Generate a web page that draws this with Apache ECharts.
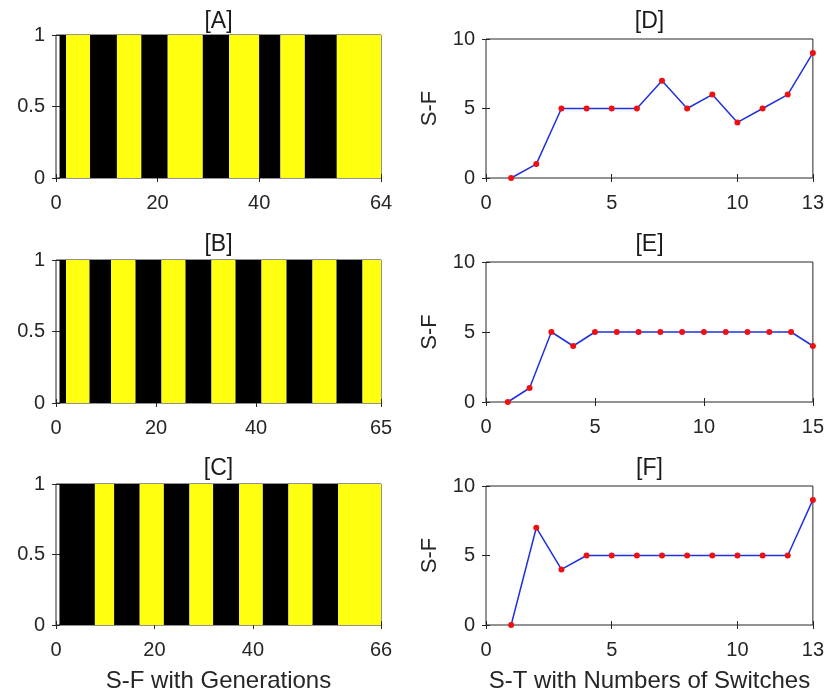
<!DOCTYPE html>
<html>
<head>
<meta charset="utf-8">
<script src="https://cdn.jsdelivr.net/npm/echarts@6/dist/echarts.min.js"></script>
<style>html,body{margin:0;padding:0;background:#fff;}#c{width:827px;height:694px;}</style>
</head>
<body>
<div id="c"></div>
<script>
// ---- Data ----
// Stripe panels: edges of alternating segments (first segment black, then yellow, ...)
const stripeEdgesA = [0.7, 2, 6.7, 12, 16.8, 22, 28.9, 34.1, 40, 44.2, 49, 55.3, 64];
const stripeEdgesB = [0.7, 2, 6.7, 11, 15.9, 21.1, 25.9, 31.1, 35.9, 41.1, 46.1, 51.3, 56.1, 61.3, 65];
const stripeEdgesC = [0.7, 7.9, 11.8, 17, 21.9, 27.1, 31.9, 37.2, 42, 47.2, 52.1, 57.3, 66];
const stripeMaxA = 64, stripeMaxB = 65, stripeMaxC = 66;
const stripeTicksA = [0, 20, 40, 64];
const stripeTicksB = [0, 20, 40, 65];
const stripeTicksC = [0, 20, 40, 66];
const stripeYTicks = [0, 0.5, 1];

// Line panels
const xD = [1,2,3,4,5,6,7,8,9,10,11,12,13];
const yD = [0,1,5,5,5,5,7,5,6,4,5,6,9];
const xE = [1,2,3,4,5,6,7,8,9,10,11,12,13,14,15];
const yE = [0,1,5,4,5,5,5,5,5,5,5,5,5,5,4];
const xF = [1,2,3,4,5,6,7,8,9,10,11,12,13];
const yF = [0,7,4,5,5,5,5,5,5,5,5,5,9];
const lineTicksD = [0, 5, 10, 13];
const lineTicksE = [0, 5, 10, 15];
const lineTicksF = [0, 5, 10, 13];
const lineYTicks = [0, 5, 10];

const titles = ['[A]', '[B]', '[C]', '[D]', '[E]', '[F]'];
const leftXLabel = 'S-F with Generations';
const rightXLabel = 'S-T with Numbers of Switches';
const yName = 'S-F';

// ---- Layout ----
const FONT = 'Liberation Sans, Arial, sans-serif';
const TXT = '#262626';
const BLACK = '#000000', YELLOW = '#ffff10';
const TICK_FS = 20, NAME_FS = 24, TITLE_FS = 23, YNAME_FS = 22;
const grids = [
  {left: 56, top: 35, width: 325, height: 143},
  {left: 56, top: 260, width: 325, height: 143},
  {left: 56, top: 484, width: 325, height: 143},
  {left: 486, top: 39, width: 327, height: 139},
  {left: 486, top: 262, width: 327, height: 140},
  {left: 486, top: 486, width: 327, height: 140}
];
const titleCY = [23, 246, 470, 23, 246, 470];

function segs(edges) {
  const out = [];
  for (let i = 0; i < edges.length - 1; i++) out.push([edges[i], edges[i + 1], i % 2]);
  return out;
}

const xAxes = [], yAxes = [], series = [], titleArr = [];
const tickStyle = {show: true, inside: true, length: 4, lineStyle: {color: TXT, width: 1}};
const labelStyle = {color: TXT, fontSize: TICK_FS, fontFamily: FONT};
const nameStyle = {color: TXT, fontSize: NAME_FS, fontFamily: FONT};

function addAxes(gi, xmax, xticks, ymax, yticks, xname, yname) {
  xAxes.push({
    type: 'value', gridIndex: gi, min: 0, max: xmax, position: 'bottom',
    axisLine: {show: false}, splitLine: {show: false},
    axisTick: Object.assign({}, tickStyle, {customValues: xticks}),
    axisLabel: Object.assign({}, labelStyle, {customValues: xticks, margin: 15}),
    name: xname || '', nameLocation: 'middle', nameGap: 44, nameTextStyle: nameStyle
  });
  xAxes.push({
    type: 'value', gridIndex: gi, min: 0, max: xmax, position: 'top',
    axisLine: {show: false}, splitLine: {show: false},
    axisTick: Object.assign({}, tickStyle, {customValues: xticks}),
    axisLabel: {show: false}
  });
  yAxes.push({
    type: 'value', gridIndex: gi, min: 0, max: ymax, position: 'left',
    axisLine: {show: false}, splitLine: {show: false},
    axisTick: Object.assign({}, tickStyle, {customValues: yticks}),
    axisLabel: Object.assign({}, labelStyle, {customValues: yticks, margin: 11}),
    name: yname || '', nameLocation: 'middle', nameGap: 45,
    nameTextStyle: Object.assign({}, nameStyle, {fontSize: YNAME_FS})
  });
  yAxes.push({
    type: 'value', gridIndex: gi, min: 0, max: ymax, position: 'right',
    axisLine: {show: false}, splitLine: {show: false},
    axisTick: Object.assign({}, tickStyle, {customValues: yticks}),
    axisLabel: {show: false}
  });
}

const stripeSets = [[stripeEdgesA, stripeMaxA, stripeTicksA], [stripeEdgesB, stripeMaxB, stripeTicksB], [stripeEdgesC, stripeMaxC, stripeTicksC]];
stripeSets.forEach((s, i) => {
  addAxes(i, s[1], s[2], 1, stripeYTicks, i === 2 ? leftXLabel : '', '');
  series.push({
    type: 'custom', xAxisIndex: 2 * i, yAxisIndex: 2 * i,
    data: segs(s[0]),
    encode: {x: [0, 1]},
    renderItem: function (params, api) {
      const p0 = api.coord([api.value(0), 1]);
      const p1 = api.coord([api.value(1), 0]);
      return {
        type: 'rect',
        shape: {x: p0[0], y: p0[1], width: p1[0] - p0[0], height: p1[1] - p0[1]},
        style: {fill: api.value(2) === 0 ? BLACK : YELLOW}
      };
    },
    z: 3, silent: true
  });
});

const lineSets = [[xD, yD, 13, lineTicksD], [xE, yE, 15, lineTicksE], [xF, yF, 13, lineTicksF]];
lineSets.forEach((s, k) => {
  const gi = k + 3;
  addAxes(gi, s[2], s[3], 10, lineYTicks, k === 2 ? rightXLabel : '', yName);
  series.push({
    type: 'line', xAxisIndex: 2 * gi, yAxisIndex: 2 * gi,
    data: s[0].map((x, i) => [x, s[1][i]]),
    lineStyle: {color: '#2030e0', width: 1.5},
    symbol: 'circle', symbolSize: 6,
    itemStyle: {color: '#ee1111'},
    showSymbol: true, animation: false, z: 3
  });
});

grids.forEach((g, i) => {
  titleArr.push({
    text: titles[i], left: g.left + g.width / 2, top: titleCY[i] - TITLE_FS / 2 - 1,
    textAlign: 'center', padding: 0,
    textStyle: {color: '#1a1a1a', fontSize: TITLE_FS, fontWeight: 'normal', fontFamily: FONT}
  });
});

const gridOpts = grids.map(g => Object.assign({show: true, borderColor: TXT, borderWidth: 1, backgroundColor: 'transparent', containLabel: false}, g));

const chart = echarts.init(document.getElementById('c'), null, {renderer: 'canvas'});
chart.setOption({
  animation: false,
  backgroundColor: '#ffffff',
  title: titleArr,
  grid: gridOpts,
  xAxis: xAxes,
  yAxis: yAxes,
  series: series
});
</script>
</body>
</html>
